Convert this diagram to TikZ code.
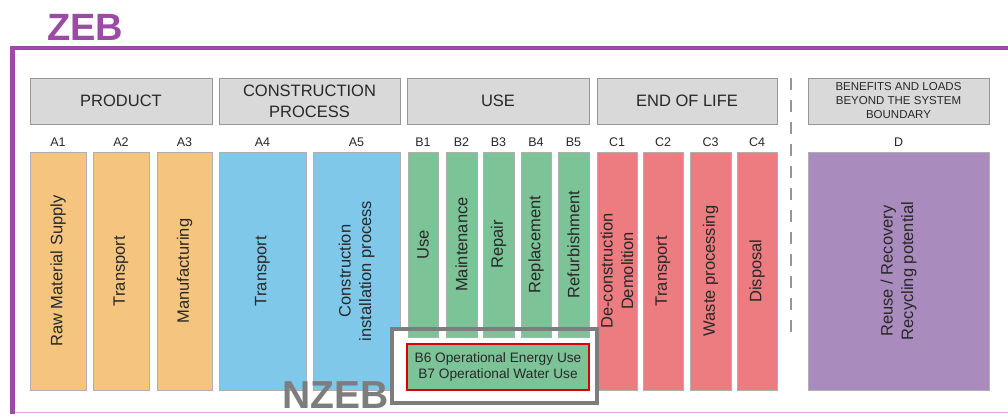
\documentclass[tikz,border=0pt]{standalone}
\usepackage{fontspec}
\setmainfont{Liberation Sans}
\definecolor{orangebar}{RGB}{245,197,128}
\definecolor{bluebar}{RGB}{127,200,234}
\definecolor{greenbar}{RGB}{124,196,152}
\definecolor{redbar}{RGB}{236,124,128}
\definecolor{purplebar}{RGB}{170,139,190}
\definecolor{headfill}{RGB}{217,217,218}
\definecolor{headline}{RGB}{150,150,150}
\definecolor{barline}{RGB}{175,175,175}
\definecolor{zebpurple}{RGB}{155,75,165}
\definecolor{framepink}{RGB}{222,170,228}
\definecolor{txt}{RGB}{40,40,40}
\definecolor{nzebgray}{RGB}{125,125,125}
\tikzset{
  bar/.style={draw=barline, line width=0.6pt, rotate=90, align=center, inner sep=0pt,
    text=txt, font=\fontsize{16.5}{20.5}\selectfont},
  head/.style={draw=headline, fill=headfill, line width=1pt, align=center, inner sep=0pt,
    text=txt, minimum height=46pt, font=\fontsize{16.5}{21}\selectfont},
  code/.style={text=txt, inner sep=0pt, font=\fontsize{12.5}{14}\selectfont},
}
\begin{document}
\begin{tikzpicture}[x=1pt,y=-1pt]
\path[use as bounding box, fill=white] (0,0) rectangle (1008,415);
% frame
\draw[zebpurple, line width=4.5pt] (1012,48) -- (12.5,48) -- (12.5,414);
\draw[framepink, line width=1pt] (15,412.5) -- (1012,412.5);
\node[anchor=base west, inner sep=0pt, text=zebpurple, font=\fontsize{38}{40}\selectfont\bfseries] (zeb) at (47,40) {ZEB};
% headers
\node[head, minimum width=182pt] (hprod) at (121,101) {PRODUCT};
\node[head, minimum width=181pt] (hcons) at (309.5,101) {CONSTRUCTION\\PROCESS};
\node[head, minimum width=182pt] (huse) at (498,101) {USE};
\node[head, minimum width=180pt] (heol) at (687,101) {END OF LIFE};
\node[head, minimum width=181pt, font=\fontsize{11.5}{14}\selectfont] (hben) at (898.5,101) {BENEFITS AND LOADS\\BEYOND THE SYSTEM\\BOUNDARY};
% dashed separator
\coordinate (dtop) at (791,78);
\coordinate (dbot) at (791,342);
\draw[headline, line width=1.5pt, dash pattern=on 12pt off 10pt] (dtop) -- (dbot);
% codes
\node[code] (la1) at (58,142) {A1};
\node[code] (la2) at (121,142) {A2};
\node[code] (la3) at (184.5,142) {A3};
\node[code] (la4) at (262.5,142) {A4};
\node[code] (la5) at (356.5,142) {A5};
\node[code] (lb1) at (423,142) {B1};
\node[code] (lb2) at (461.5,142) {B2};
\node[code] (lb3) at (498.5,142) {B3};
\node[code] (lb4) at (536,142) {B4};
\node[code] (lb5) at (573.5,142) {B5};
\node[code] (lc1) at (617,142) {C1};
\node[code] (lc2) at (663,142) {C2};
\node[code] (lc3) at (710.5,142) {C3};
\node[code] (lc4) at (757,142) {C4};
\node[code] (ld) at (898.5,142) {D};
% bars
\node[bar, fill=orangebar, minimum width=238pt, minimum height=56pt] (a1) at (58,271) {Raw Material Supply};
\node[bar, fill=orangebar, minimum width=238pt, minimum height=56pt] (a2) at (121,271) {Transport};
\node[bar, fill=orangebar, minimum width=238pt, minimum height=55pt] (a3) at (184.5,271) {Manufacturing};
\node[bar, fill=bluebar, minimum width=238pt, minimum height=87pt] (a4) at (262.5,271) {Transport};
\node[bar, fill=bluebar, minimum width=238pt, minimum height=87pt] (a5) at (356.5,271) {Construction\\installation process};
\node[bar, fill=redbar, minimum width=238pt, minimum height=40pt] (c1) at (617,271) {De-construction\\Demolition};
\node[bar, fill=redbar, minimum width=238pt, minimum height=40pt] (c2) at (663,271) {Transport};
\node[bar, fill=redbar, minimum width=238pt, minimum height=41pt] (c3) at (710.5,271) {Waste processing};
\node[bar, fill=redbar, minimum width=238pt, minimum height=40pt] (c4) at (757,271) {Disposal};
\node[bar, fill=purplebar, minimum width=238pt, minimum height=181pt] (d) at (898.5,271) {Reuse / Recovery\\Recycling potential};
% NZEB box background
\fill[white] (392,329) rectangle (597,403);
\node[bar, fill=greenbar, minimum width=185pt, minimum height=30pt] (b1) at (423,244.5) {Use};
\node[bar, fill=greenbar, minimum width=185pt, minimum height=31pt] (b2) at (461.5,244.5) {Maintenance};
\node[bar, fill=greenbar, minimum width=185pt, minimum height=31pt] (b3) at (498.5,244.5) {Repair};
\node[bar, fill=greenbar, minimum width=185pt, minimum height=30pt] (b4) at (536,244.5) {Replacement};
\node[bar, fill=greenbar, minimum width=185pt, minimum height=31pt] (b5) at (573.5,244.5) {Refurbishment};
\node[draw=red!85!black, line width=1.2pt, fill=greenbar, minimum width=182pt, minimum height=46pt, inner sep=0pt, align=center, text=txt, font=\fontsize{13.7}{16}\selectfont] (b67) at (498,367) {B6 Operational Energy Use\\B7 Operational Water Use};
\node[draw=nzebgray, line width=4pt, minimum width=205pt, minimum height=74pt, inner sep=0pt] (nzebbox) at (494.5,366) {};
\node[anchor=base east, inner sep=0pt, text=nzebgray, font=\fontsize{39}{40}\selectfont\bfseries] (nzeb) at (389,408) {NZEB};
\end{tikzpicture}
\end{document}
